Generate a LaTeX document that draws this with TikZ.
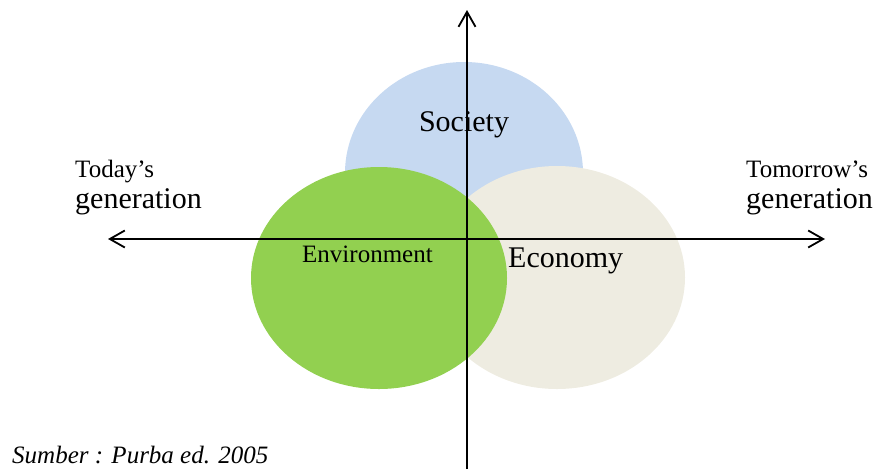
\documentclass[tikz,border=0pt]{standalone}
\usepackage{fontspec}
\setmainfont{Liberation Serif}
\usetikzlibrary{arrows.meta,shapes.geometric}
\definecolor{socblue}{HTML}{C6D9F1}
\definecolor{envgreen}{HTML}{92D050}
\definecolor{ecobeige}{HTML}{EEECE1}
\tikzset{
  blob/.style={ellipse, draw=none, inner sep=0pt},
  axis/.style={line width=1.8pt, draw=black, >={Straight Barb[length=15pt, width=17pt, line width=1.8pt]}},
  lbl/.style={anchor=base west, inner sep=0pt, text=black},
}
\begin{document}
\begin{tikzpicture}[x=1pt, y=-1pt]
\useasboundingbox (0,0) rectangle (874,469);
% ellipses
\node[blob, fill=socblue, minimum width=238pt, minimum height=222pt] (society) at (464,173) {};
\node[blob, fill=ecobeige, minimum width=256pt, minimum height=223pt] (economy) at (557,277.5) {};
\node[blob, fill=envgreen, minimum width=256pt, minimum height=222pt] (environment) at (379,278) {};
% axes
\coordinate (ybot) at (467,469);
\coordinate (ytop) at (467,10);
\coordinate (xleft) at (108,239);
\coordinate (xright) at (825,239);
\draw[axis, ->] (ybot) -- (ytop);
\draw[axis, <->] (xleft) -- (xright);
% labels
\node[lbl, font=\fontsize{30}{30}\selectfont, anchor=base] (soclbl) at (464,131) {Society};
\node[lbl, font=\fontsize{25}{25}\selectfont] (envlbl) at (302,262) {Environment};
\node[lbl, font=\fontsize{30}{30}\selectfont] (ecolbl) at (508,267) {Economy};
\node[lbl, font=\fontsize{25}{25}\selectfont] (today) at (75,177) {Today’s};
\node[lbl, font=\fontsize{30}{30}\selectfont] (todaygen) at (75,208) {generation};
\node[lbl, font=\fontsize{25}{25}\selectfont] (tomorrow) at (746,177) {Tomorrow’s};
\node[lbl, font=\fontsize{30}{30}\selectfont] (tomorrowgen) at (746,208) {generation};
\node[lbl, font=\fontsize{25}{25}\selectfont\itshape] (source) at (12,463) {Sumber : Purba ed. 2005};
\end{tikzpicture}
\end{document}
